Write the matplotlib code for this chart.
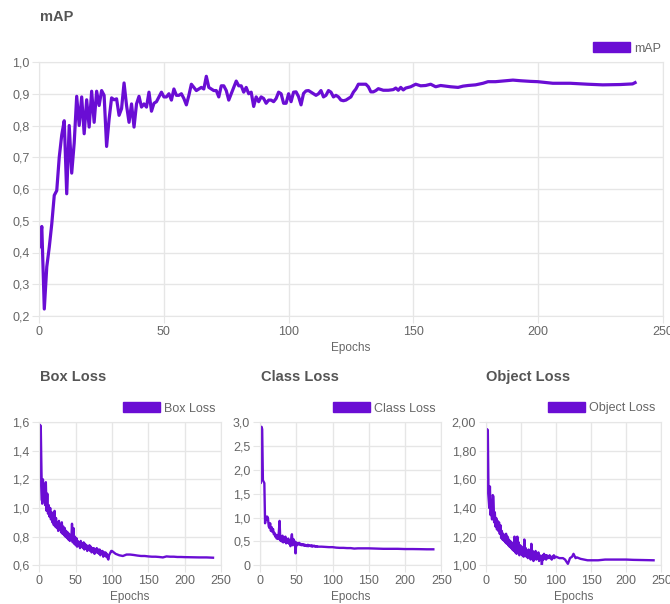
import numpy as np
import matplotlib
matplotlib.use("Agg")
from matplotlib import pyplot as plt
from matplotlib.patches import Patch

plt.rcParams['font.family'] = ['Liberation Sans', 'DejaVu Sans']

# mAP per epoch (0..120), then sampled points read from the smoother tail
map_epochs = list(range(0, 121)) + [121, 122, 123, 124, 125, 126, 127, 128, 130, 131, 132, 133, 134, 135, 136,
                                    138, 140, 142, 143, 144, 145, 146, 147, 149, 151, 153, 155, 157, 159, 161,
                                    163, 165, 168, 170, 172, 175, 178, 180, 183, 186, 190, 193, 197, 200, 206,
                                    213, 220, 226, 233, 238, 239]
map_values = [0.418, 0.482, 0.222, 0.355, 0.417, 0.49, 0.58, 0.595, 0.70, 0.77,
              0.815, 0.585, 0.80, 0.65, 0.745, 0.892, 0.80, 0.89, 0.774, 0.881,
              0.795, 0.908, 0.81, 0.908, 0.863, 0.91, 0.895, 0.734, 0.82, 0.887,
              0.881, 0.884, 0.832, 0.853, 0.934, 0.863, 0.81, 0.868, 0.795, 0.868,
              0.892, 0.858, 0.868, 0.858, 0.905, 0.845, 0.87, 0.875, 0.89, 0.905,
              0.89, 0.89, 0.90, 0.88, 0.915, 0.895, 0.895, 0.90, 0.885, 0.865,
              0.895, 0.93, 0.92, 0.91, 0.915, 0.92, 0.915, 0.955, 0.92, 0.915,
              0.91, 0.91, 0.89, 0.925, 0.925, 0.91, 0.88, 0.90, 0.92, 0.94,
              0.925, 0.925, 0.905, 0.92, 0.90, 0.905, 0.86, 0.89, 0.875, 0.89,
              0.885, 0.87, 0.88, 0.88, 0.875, 0.885, 0.905, 0.90, 0.87, 0.87,
              0.90, 0.875, 0.905, 0.906, 0.891, 0.865, 0.901, 0.909, 0.91, 0.905,
              0.90, 0.895, 0.90, 0.91, 0.89, 0.895, 0.91, 0.905, 0.89, 0.895,
              0.89,
              0.88, 0.878, 0.88, 0.885, 0.89, 0.905, 0.915, 0.93, 0.93, 0.93, 0.922, 0.906, 0.906, 0.91, 0.916,
              0.911, 0.911, 0.913, 0.918, 0.911, 0.92, 0.912, 0.918, 0.922, 0.93, 0.925, 0.926, 0.93, 0.922, 0.926,
              0.924, 0.922, 0.92, 0.924, 0.926, 0.928, 0.933, 0.938, 0.938, 0.94, 0.943, 0.941, 0.939, 0.938, 0.933,
              0.933, 0.93, 0.928, 0.929, 0.931, 0.935]

box_epochs = list(range(0, 100)) + [100, 105, 110, 115, 120, 125, 130, 135, 140, 145, 150, 155, 160, 165,
                                    170, 175, 180, 185, 190, 195, 200, 210, 220, 230, 239]
box_values = [1.06, 1.58, 1.57, 1.25, 1.03, 1.20, 1.05, 1.16, 1.02, 1.18,
              0.98, 1.10, 0.96, 1.02, 0.94, 1.00, 0.92, 0.97, 0.90, 0.95,
              0.88, 0.98, 0.87, 0.93, 0.86, 0.90, 0.84, 0.91, 0.85, 0.88,
              0.83, 0.90, 0.82, 0.87, 0.81, 0.86, 0.80, 0.84, 0.79, 0.83,
              0.78, 0.82, 0.77, 0.81, 0.78, 0.89, 0.76, 0.86, 0.75, 0.80,
              0.74, 0.79, 0.73, 0.77, 0.74, 0.76, 0.72, 0.77, 0.73, 0.75,
              0.72, 0.76, 0.71, 0.75, 0.72, 0.74, 0.70, 0.73, 0.71, 0.74,
              0.70, 0.73, 0.69, 0.72, 0.70, 0.72, 0.68, 0.71, 0.69, 0.72,
              0.69, 0.71, 0.68, 0.71, 0.67, 0.70, 0.68, 0.70, 0.66, 0.69,
              0.67, 0.69, 0.66, 0.68, 0.65, 0.64, 0.67, 0.68, 0.69, 0.70,
              0.70, 0.68, 0.67, 0.665, 0.675, 0.675, 0.672, 0.668, 0.665, 0.665, 0.662, 0.660, 0.660, 0.658,
              0.655, 0.662, 0.660, 0.660, 0.658, 0.658, 0.657, 0.656, 0.655, 0.655, 0.653]

class_epochs = list(range(0, 80)) + [80, 85, 90, 95, 100, 105, 110, 115, 120, 125, 130, 135, 140, 145, 150,
                                     160, 170, 180, 190, 200, 210, 220, 230, 239]
class_values = [2.72, 1.72, 2.90, 2.85, 1.78, 1.75, 1.72, 0.88, 1.02, 0.95,
                1.02, 0.98, 0.82, 0.78, 0.88, 0.72, 0.80, 0.70, 0.76, 0.65,
                0.68, 0.60, 0.64, 0.56, 0.62, 0.55, 0.70, 0.93, 0.52, 0.60,
                0.50, 0.62, 0.48, 0.58, 0.50, 0.60, 0.46, 0.55, 0.48, 0.56,
                0.45, 0.52, 0.40, 0.55, 0.65, 0.42, 0.55, 0.45, 0.50, 0.25,
                0.48, 0.42, 0.46, 0.44, 0.47, 0.43, 0.45, 0.42, 0.44, 0.42,
                0.44, 0.41, 0.43, 0.41, 0.42, 0.40, 0.43, 0.40, 0.42, 0.41,
                0.40, 0.42, 0.39, 0.41, 0.40, 0.41, 0.39, 0.40, 0.39, 0.40,
                0.39, 0.39, 0.385, 0.38, 0.38, 0.37, 0.365, 0.365, 0.36, 0.36, 0.35, 0.355, 0.355, 0.355, 0.355,
                0.35, 0.345, 0.345, 0.345, 0.34, 0.34, 0.338, 0.335, 0.335]

obj_epochs = list(range(0, 100)) + [100, 105, 110, 113, 117, 120, 123, 125, 128, 130, 135, 140, 145, 150,
                                    160, 170, 180, 190, 200, 210, 220, 230, 239]
obj_values = [1.39, 1.57, 1.95, 1.94, 1.50, 1.40, 1.55, 1.35, 1.42, 1.32,
              1.49, 1.48, 1.30, 1.37, 1.27, 1.33, 1.25, 1.31, 1.24, 1.30,
              1.22, 1.28, 1.19, 1.24, 1.18, 1.22, 1.17, 1.21, 1.16, 1.22,
              1.15, 1.20, 1.14, 1.18, 1.13, 1.17, 1.12, 1.16, 1.11, 1.15,
              1.10, 1.20, 1.09, 1.15, 1.08, 1.20, 1.10, 1.16, 1.07, 1.14,
              1.08, 1.13, 1.07, 1.12, 1.06, 1.18, 1.07, 1.12, 1.06, 1.10,
              1.05, 1.11, 1.06, 1.09, 1.04, 1.15, 1.06, 1.10, 1.03, 1.09,
              1.05, 1.10, 1.04, 1.08, 1.05, 1.09, 1.03, 1.07, 1.04, 1.06,
              1.00, 1.07, 1.04, 1.08, 1.05, 1.07, 1.04, 1.07, 1.05, 1.06,
              1.05, 1.07, 1.05, 1.06, 1.04, 1.06, 1.05, 1.07, 1.05, 1.06,
              1.06, 1.05, 1.05, 1.04, 1.01, 1.05, 1.06, 1.08, 1.05, 1.055, 1.045, 1.04, 1.035, 1.035,
              1.035, 1.04, 1.04, 1.04, 1.04, 1.038, 1.037, 1.036, 1.035]

purple = '#6a0dd4'
grid_c = '#e6e6e6'
txt_c = '#666666'

W, H = 670, 604
fig = plt.figure(figsize=(W / 100, H / 100), dpi=100)


def px_axes(x0, x1, y0, y1):
    return fig.add_axes([x0 / W, 1 - y1 / H, (x1 - x0) / W, (y1 - y0) / H])


def style(ax, ylim, yticks, ylabels, name):
    ax.set_xlim(0, 250)
    ax.set_ylim(*ylim)
    ax.set_xticks([0, 50, 100, 150, 200, 250])
    ax.set_yticks(yticks)
    ax.set_yticklabels(ylabels)
    ax.grid(True, color=grid_c, lw=1)
    ax.set_axisbelow(True)
    for s in ax.spines.values():
        s.set_color(grid_c)
    ax.tick_params(colors=grid_c, labelcolor=txt_c, labelsize=9, length=5, pad=2)
    ax.set_xlabel('Epochs', color=txt_c, fontsize=8.5, labelpad=3)
    leg = ax.legend(handles=[Patch(facecolor=purple, edgecolor=purple, label=name)],
                    loc='lower right', bbox_to_anchor=(1.01, 1.0), frameon=False,
                    handlelength=3.0, handleheight=0.85, handletextpad=0.3,
                    borderaxespad=0.2, fontsize=9)
    for t in leg.get_texts():
        t.set_color(txt_c)


ax = px_axes(39.3, 662.5, 62, 316)
ax.plot(map_epochs, map_values, color=purple, lw=2.3)
style(ax, (0.2, 1.0), np.arange(0.2, 1.01, 0.1),
      ['0,2', '0,3', '0,4', '0,5', '0,6', '0,7', '0,8', '0,9', '1,0'], 'mAP')
fig.text(40 / W, 1 - 17 / H, 'mAP', fontsize=10.5, fontweight='bold', color='#555555', va='center')

ax = px_axes(39.3, 221, 422, 565.3)
ax.plot(box_epochs, box_values, color=purple, lw=1.7)
style(ax, (0.6, 1.6), [0.6, 0.8, 1.0, 1.2, 1.4, 1.6],
      ['0,6', '0,8', '1,0', '1,2', '1,4', '1,6'], 'Box Loss')
fig.text(40 / W, 1 - 377 / H, 'Box Loss', fontsize=10.5, fontweight='bold', color='#555555', va='center')

ax = px_axes(260, 441.3, 422, 565.3)
ax.plot(class_epochs, class_values, color=purple, lw=1.7)
style(ax, (0, 3.0), [0, 0.5, 1.0, 1.5, 2.0, 2.5, 3.0],
      ['0', '0,5', '1,0', '1,5', '2,0', '2,5', '3,0'], 'Class Loss')
fig.text(261 / W, 1 - 377 / H, 'Class Loss', fontsize=10.5, fontweight='bold', color='#555555', va='center')

ax = px_axes(485.7, 661.3, 422, 565.3)
ax.plot(obj_epochs, obj_values, color=purple, lw=1.7)
style(ax, (1.0, 2.0), [1.0, 1.2, 1.4, 1.6, 1.8, 2.0],
      ['1,00', '1,20', '1,40', '1,60', '1,80', '2,00'], 'Object Loss')
fig.text(486 / W, 1 - 377 / H, 'Object Loss', fontsize=10.5, fontweight='bold', color='#555555', va='center')

fig.savefig('out.png', dpi=100, facecolor='white')
